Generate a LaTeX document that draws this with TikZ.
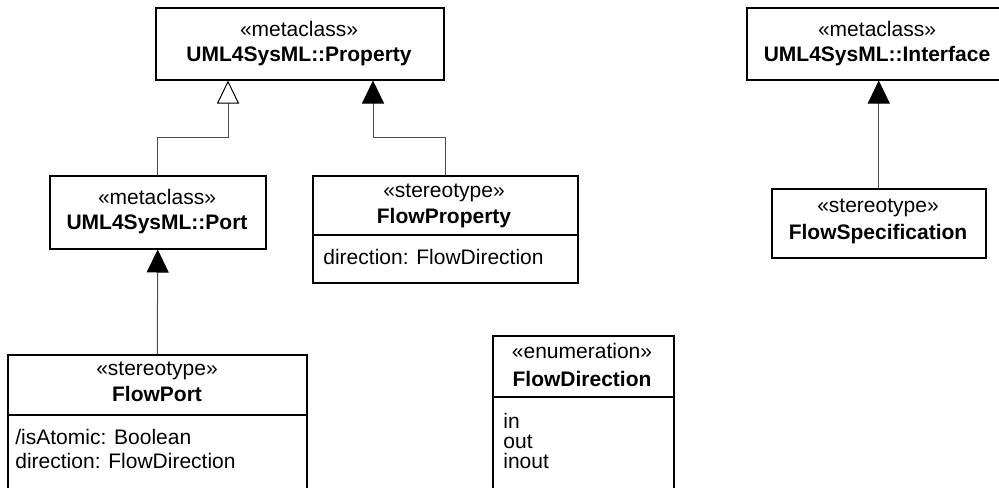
\documentclass[tikz,border=0pt]{standalone}
\usepackage{fontspec}
\setmainfont{Liberation Sans}
\usetikzlibrary{arrows.meta}
\begin{document}
\begin{tikzpicture}[x=0.5pt,y=-0.5pt,
 box/.style={draw=black,line width=0.75pt,rectangle,inner sep=0pt,anchor=north west},
 txt/.style={inner sep=0pt,anchor=mid,font=\fontsize{10.5}{12}\selectfont},
 btxt/.style={inner sep=0pt,anchor=mid,font=\fontsize{10.5}{12}\selectfont\bfseries},
 ltxt/.style={inner sep=0pt,anchor=mid west,font=\fontsize{10.5}{12}\selectfont},
 conn/.style={draw=black!70,line width=0.5pt},
 gen/.style={conn,-{Triangle[open,length=11.5pt,width=11pt,black,fill=white]}},
 ext/.style={conn,-{Triangle[length=11.5pt,width=11pt,black]}},
 sep/.style={draw=black,line width=0.6pt}]
\useasboundingbox (0,0) rectangle (999,487);
\clip (0,0) rectangle (999,487);

% boxes
\node[box,minimum width=144pt,minimum height=36pt] (prop) at (155,7) {};
\node[box,minimum width=108pt,minimum height=36.5pt] (port) at (49,175) {};
\node[box,minimum width=132.5pt,minimum height=53.5pt] (fprop) at (312,175) {};
\node[box,minimum width=149.5pt,minimum height=75pt] (fport) at (7,354) {};
\node[box,minimum width=90.5pt,minimum height=85pt] (fdir) at (492,335) {};
\node[box,minimum width=131pt,minimum height=36pt] (iface) at (746,7) {};
\node[box,minimum width=107pt,minimum height=34.5pt] (fspec) at (771,188) {};

% compartment separators
\draw[sep] (fprop.west |- 0,235) -- (fprop.east |- 0,235);
\draw[sep] (fport.west |- 0,415) -- (fport.east |- 0,415);
\draw[sep] (fdir.west |- 0,397) -- (fdir.east |- 0,397);

% texts
\node[txt] (t1) at (299,31) {«metaclass»};
\node[btxt] (t2) at (299,56) {UML4SysML::Property};
\node[txt] (t3) at (157,199) {«metaclass»};
\node[btxt] (t4) at (157,224) {UML4SysML::Port};
\node[txt] (t5) at (444,192) {«stereotype»};
\node[btxt] (t6) at (444,218) {FlowProperty};
\node[ltxt] (t7) at (323,259) {direction: FlowDirection};
\node[txt] (t8) at (157,370) {«stereotype»};
\node[btxt] (t9) at (157,396) {FlowPort};
\node[ltxt] (t10) at (15,439) {/isAtomic: Boolean};
\node[ltxt] (t11) at (15,463) {direction: FlowDirection};
\node[txt] (t12) at (582,353) {«enumeration»};
\node[btxt] (t13) at (582,381) {FlowDirection};
\node[ltxt] (t14) at (503,423) {in};
\node[ltxt] (t15) at (503,443) {out};
\node[ltxt] (t16) at (503,463) {inout};
\node[txt] (t17) at (877,31) {«metaclass»};
\node[btxt] (t18) at (877,56) {UML4SysML::Interface};
\node[txt] (t19) at (878,207) {«stereotype»};
\node[btxt] (t20) at (878,234) {FlowSpecification};

% connectors
\coordinate (j1) at (228,137);
\coordinate (j2) at (373,137);
\draw[gen] (port.north) |- (j1) -- (prop.south -| j1);
\draw[ext] (fprop.north) |- (j2) -- (prop.south -| j2);
\draw[ext] (fport.north) -- (port.south);
\draw[ext] (fspec.north) -- (fspec.north |- iface.south);
\end{tikzpicture}
\end{document}
